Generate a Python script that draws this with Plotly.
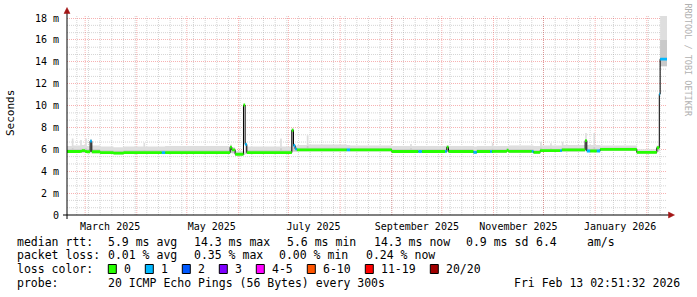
import plotly.graph_objects as go
import pandas as pd
import numpy as np

# ---------------- data ----------------
seg_start = [
    "2025-02-18", "2025-02-21", "2025-02-22", "2025-02-26", "2025-02-27",
    "2025-03-01", "2025-03-02", "2025-03-04", "2025-03-05", "2025-03-10",
    "2025-03-18", "2025-03-24", "2025-04-05", "2025-04-06", "2025-04-16",
    "2025-04-18", "2025-05-27", "2025-05-28", "2025-05-30", "2025-06-04",
    "2025-06-05", "2025-06-06", "2025-06-26", "2025-06-27", "2025-07-03",
    "2025-07-04", "2025-07-05", "2025-07-06", "2025-07-12", "2025-07-13",
    "2025-08-05", "2025-08-07", "2025-09-01", "2025-09-12", "2025-09-13",
    "2025-09-17", "2025-09-19", "2025-10-03", "2025-10-04", "2025-10-05",
    "2025-10-20", "2025-10-22", "2025-10-30", "2025-10-31", "2025-11-01",
    "2025-11-09", "2025-11-10", "2025-11-24", "2025-11-25", "2025-11-29",
    "2025-11-30", "2025-12-05", "2025-12-06", "2025-12-11", "2025-12-12",
    "2025-12-13", "2025-12-26", "2025-12-27", "2025-12-29", "2025-12-31",
    "2026-01-01", "2026-01-02", "2026-01-04", "2026-01-26", "2026-02-07",
    "2026-02-08 12:00", "2026-02-09",
]
median_ms = [
    5.80, 5.80, 5.80, 5.82, 5.88,
    5.80, 5.78, 6.75, 5.78, 5.70,
    5.65, 5.70, 5.70, 5.70, 5.70,
    5.70, 6.20, 5.95, 5.55, 10.05,
    6.45, 5.70, 5.70, 5.70, 7.75,
    6.35, 6.05, 5.95, 5.95, 5.95,
    5.95, 5.95, 5.80, 5.80, 5.80,
    5.80, 5.80, 5.82, 6.20, 5.80,
    5.72, 5.80, 5.80, 5.80, 5.82,
    5.92, 5.82, 5.82, 5.72, 5.88,
    5.88, 5.88, 5.88, 5.88, 5.95,
    5.95, 6.80, 5.85, 5.85, 5.85,
    5.85, 5.85, 6.00, 5.72, 6.15,
    11.05, 14.25,
]
loss_class = [
    0, 0, 0, 0, 0,
    0, 0, 1, 0, 0,
    0, 0, 0, 0, 1,
    0, 0, 0, 0, 0,
    1, 0, 0, 0, 0,
    1, 1, 0, 0, 0,
    1, 0, 0, 0, 0,
    1, 0, 1, 0, 0,
    1, 0, 1, 0, 0,
    0, 0, 1, 0, 0,
    0, 0, 0, 1, 0,
    0, 0, 1, 0, 0,
    0, 1, 0, 0, 0,
    1, 1,
]
smoke_lo = [
    5.66, 5.66, 5.66, 5.66, 5.70,
    5.66, 5.66, 5.75, 5.65, 5.58,
    5.55, 5.58, 5.58, 5.58, 5.58,
    5.58, 5.70, 5.65, 5.45, 5.50,
    5.60, 5.58, 5.58, 5.58, 5.80,
    5.80, 5.80, 5.82, 5.82, 5.82,
    5.82, 5.82, 5.68, 5.68, 5.68,
    5.68, 5.68, 5.70, 5.75, 5.68,
    5.62, 5.68, 5.68, 5.68, 5.70,
    5.75, 5.70, 5.70, 5.62, 5.75,
    5.75, 5.75, 5.75, 5.75, 5.80,
    5.80, 5.85, 5.75, 5.75, 5.75,
    5.75, 5.75, 5.88, 5.62, 5.80,
    10.90, 13.60,
]
smoke_in = [
    6.02, 6.10, 6.02, 6.05, 6.05,
    6.10, 6.00, 6.85, 6.00, 5.92,
    5.88, 5.92, 5.95, 5.92, 5.92,
    5.92, 6.30, 6.05, 5.68, 5.60,
    6.55, 5.92, 6.10, 5.92, 7.85,
    6.45, 6.15, 6.15, 6.30, 6.15,
    6.15, 6.12, 6.00, 6.10, 6.00,
    6.00, 6.00, 6.00, 6.30, 6.00,
    5.95, 6.00, 6.00, 6.05, 6.00,
    6.05, 6.02, 6.02, 5.95, 6.15,
    6.05, 6.10, 6.05, 6.05, 6.15,
    6.12, 6.90, 6.05, 6.05, 6.20,
    6.05, 6.05, 6.15, 5.85, 6.25,
    11.10, 16.00,
]
smoke_hi = [
    6.30, 7.00, 6.35, 6.85, 6.40,
    7.00, 6.30, 6.95, 6.35, 6.25,
    6.20, 6.25, 6.60, 6.25, 6.25,
    6.30, 6.45, 6.20, 5.85, 5.80,
    6.65, 6.25, 7.00, 6.25, 7.95,
    6.55, 6.30, 6.40, 7.30, 6.45,
    6.40, 6.35, 6.30, 6.50, 6.30,
    6.30, 6.30, 6.30, 6.40, 6.30,
    6.25, 6.30, 6.30, 6.60, 6.30,
    6.30, 6.35, 6.35, 6.30, 6.70,
    6.35, 6.55, 6.35, 6.35, 6.70,
    6.40, 7.50, 6.40, 6.40, 7.50,
    6.40, 6.40, 6.35, 6.00, 6.35,
    11.20, 18.20,
]
end_time = "2026-02-13 02:51:32"
range_days = 360

loss_labels = ["0", "1", "2", "3", "4-5", "6-10", "11-19", "20/20"]
loss_colors = ["#26ff00", "#00b8ff", "#0059ff", "#7e00ff",
               "#ff00ff", "#ff5500", "#ff0000", "#a00000"]

y_tickvals = [0, 2, 4, 6, 8, 10, 12, 14, 16, 18]
y_ticktext = ["0", "2 m", "4 m", "6 m", "8 m", "10 m", "12 m", "14 m", "16 m", "18 m"]
month_labels = ["March 2025", "May 2025", "July 2025",
                "September 2025", "November 2025", "January 2026"]
month_label_dates = ["2025-03-16", "2025-05-16", "2025-07-16",
                     "2025-09-16", "2025-11-16", "2026-01-16"]

rtt_row = ["median rtt:", "5.9 ms avg", "14.3 ms max", "5.6 ms min",
           "14.3 ms now", "0.9 ms sd", "6.4", "am/s"]
loss_row = ["packet loss:", "0.01 % avg", "0.35 % max", "0.00 % min", "0.24 % now"]
probe_row = ["probe:", "20 ICMP Echo Pings (56 Bytes) every 300s",
             "Fri Feb 13 02:51:32 2026"]

# ---------------- geometry helpers ----------------
W, H = 697, 297
L, R, T, B = 67, 30, 15, 82
PW, PH = W - L - R, H - T - B
Y_MAX = 18.28


def px(x):
    return (x - L) / PW


def py(y):
    return (H - B - y) / PH


t = list(pd.to_datetime(seg_start, format="ISO8601"))
t_end = pd.Timestamp(end_time)
t_start = t_end - pd.Timedelta(days=range_days)
t_all = t + [t_end]


def ext(v):
    return list(v) + [v[-1]]


fig = go.Figure()


def step(vals, **kw):
    return go.Scatter(x=t_all, y=ext(vals), mode="lines",
                      line=dict(shape="hv", width=0),
                      hoverinfo="skip", showlegend=False, **kw)


# smoke
fig.add_trace(step(smoke_lo))
fig.add_trace(step(smoke_hi, fill="tonexty", fillcolor="#dedede"))
fig.add_trace(step(smoke_lo))
fig.add_trace(step(smoke_in, fill="tonexty", fillcolor="#c9c9c9"))

# median line
fig.add_trace(go.Scatter(x=t_all, y=ext(median_ms), mode="lines",
                         line=dict(shape="hv", color="black", width=1),
                         hoverinfo="skip", showlegend=False))

# loss-coloured median band (rectangles, one trace per loss class)
band = 0.13
for k, col in enumerate(loss_colors):
    xs, ys = [], []
    for i, c in enumerate(loss_class):
        if c != k:
            continue
        a, b = t_all[i], t_all[i + 1]
        lo, hi = median_ms[i] - band, median_ms[i] + band
        xs += [a, b, b, a, a, None]
        ys += [lo, lo, hi, hi, lo, None]
    if xs:
        fig.add_trace(go.Scatter(x=xs, y=ys, mode="lines", fill="toself",
                                 fillcolor=col, line=dict(width=0, color=col),
                                 hoverinfo="skip", showlegend=False))

month_starts = pd.date_range("2025-03-01", "2026-02-01", freq="MS")
week_starts = pd.date_range("2025-02-24", "2026-02-13", freq="7D")
minor_y = [v for v in np.arange(0, Y_MAX, 2 / 3) if abs(v / 2 - round(v / 2)) > 1e-6]
major_grid = "rgba(230,0,0,0.30)"
minor_grid = "rgba(150,150,150,0.40)"
dash = "1px,1px"

fig.update_layout(
    width=W, height=H,
    margin=dict(l=L, r=R, t=T, b=B),
    paper_bgcolor="white", plot_bgcolor="white",
    showlegend=False,
    font=dict(family="DejaVu Sans Mono", size=10, color="black"),
    xaxis=dict(type="date", range=[t_start, t_end],
               tickvals=month_label_dates, ticktext=month_labels,
               showgrid=False, ticks="outside", ticklen=2,
               tickcolor="rgba(0,0,0,0)",
               tickfont=dict(family="DejaVu Sans Mono", size=10),
               zeroline=False, showline=False),
    yaxis=dict(range=[0, Y_MAX], tickvals=y_tickvals, ticktext=y_ticktext,
               showgrid=True, gridcolor=major_grid, griddash=dash, gridwidth=1,
               zeroline=False, showline=False,
               ticks="outside", ticklen=5, tickcolor="rgba(0,0,0,0)",
               tickfont=dict(family="DejaVu Sans Mono", size=10)),
)

shapes = []
# minor grid (weekly verticals, 2/3 ms horizontals)
for w in week_starts:
    shapes.append(dict(type="line", xref="x", yref="paper", x0=w, x1=w,
                       y0=0, y1=1, layer="below",
                       line=dict(color=minor_grid, width=1, dash=dash)))
for v in minor_y:
    shapes.append(dict(type="line", xref="paper", yref="y", x0=0, x1=1,
                       y0=v, y1=v, layer="below",
                       line=dict(color=minor_grid, width=1, dash=dash)))
# monthly major grid lines
for m in month_starts:
    shapes.append(dict(type="line", xref="x", yref="paper", x0=m, x1=m,
                       y0=0, y1=1, layer="below",
                       line=dict(color=major_grid, width=1, dash=dash)))

# axes with arrows (decoration)
shapes += [
    dict(type="line", xref="paper", yref="paper", x0=px(63), x1=px(671),
         y0=0, y1=0, line=dict(color="black", width=1), layer="above"),
    dict(type="line", xref="paper", yref="paper", x0=0, x1=0,
         y0=py(219), y1=py(11), line=dict(color="black", width=1), layer="above"),
    dict(type="path", xref="paper", yref="paper", layer="above",
         path=f"M {px(64)} {py(13.5)} L {px(70)} {py(13.5)} L {px(67)} {py(7.5)} Z",
         fillcolor="#a31515", line=dict(color="#a31515", width=0.5)),
    dict(type="path", xref="paper", yref="paper", layer="above",
         path=f"M {px(668.5)} {py(212)} L {px(668.5)} {py(218)} L {px(674.5)} {py(215)} Z",
         fillcolor="#a31515", line=dict(color="#a31515", width=0.5)),
]

annos = []
mono = dict(family="DejaVu Sans Mono", size=11.5, color="black")


def text_at(x, y, s, **kw):
    annos.append(dict(xref="paper", yref="paper", x=px(x), y=py(y), text=s,
                      showarrow=False, xanchor="left", yanchor="middle",
                      font=mono, **kw))


for x, s in zip([15, 106, 192, 285, 372, 464, 534, 585], rtt_row):
    text_at(x, 241.5, s)
for x, s in zip([15, 106, 192, 277, 364], loss_row):
    text_at(x, 255.2, s)
text_at(15, 269, "loss color:")
sx = 108.3
for lab, col in zip(loss_labels, loss_colors):
    shapes.append(dict(type="rect", xref="paper", yref="paper",
                       x0=px(sx), x1=px(sx + 8), y0=py(273.5), y1=py(264.5),
                       fillcolor=col, line=dict(color="black", width=1),
                       layer="above"))
    text_at(sx + 13.5, 269, lab)
    sx = sx + 14.5 + len(lab) * 7.0 + 15.5
for x, s in zip([15, 106, 512.3], probe_row):
    text_at(x, 282.7, s)

annos.append(dict(xref="paper", yref="paper", x=px(10), y=py(113),
                  text="Seconds", textangle=-90, showarrow=False,
                  xanchor="center", yanchor="middle",
                  font=dict(family="DejaVu Sans Mono", size=11, color="black")))
annos.append(dict(xref="paper", yref="paper", x=px(687.5), y=py(60),
                  text="RRDTOOL / TOBI OETIKER", textangle=90, showarrow=False,
                  xanchor="center", yanchor="middle",
                  font=dict(family="DejaVu Sans Mono", size=8.5, color="#b0b0b0")))

fig.update_layout(shapes=shapes, annotations=annos)
fig.write_html("out.html")
